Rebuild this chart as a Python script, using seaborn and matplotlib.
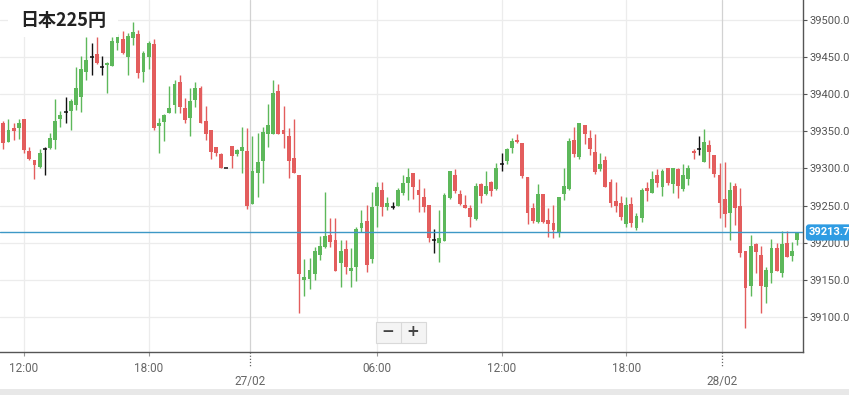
import numpy as np
import pandas as pd
import matplotlib
matplotlib.use("Agg")
import matplotlib.pyplot as plt
import seaborn as sns
from matplotlib import font_manager
from matplotlib.patches import Rectangle
from matplotlib.transforms import blended_transform_factory

# ---------------- data (15-minute candles) ----------------
opens = [39361, 39336, 39354, 39354, 39367, 39324, 39311, 39302, 39326, 39328,
         39338, 39367, 39376, 39377, 39385, 39396, 39430, 39450, 39454, 39437,
         39439, 39438, 39469, 39474, 39450, 39476, 39481, 39430, 39450, 39468,
         39357, 39363, 39375, 39385, 39416, 39381, 39368, 39392, 39408, 39364,
         39352, 39329, 39319, 39301, 39330, 39319, 39324, 39324, 39252, 39294,
         39310, 39346, 39346, 39404, 39352, 39344, 39314, 39291, 39150, 39151,
         39158, 39183, 39194, 39210, 39204, 39173, 39191, 39162, 39167, 39220,
         39229, 39178, 39249, 39271, 39248, 39248, 39249, 39267, 39280, 39294,
         39271, 39262, 39251, 39203, 39199, 39202, 39260, 39291, 39266, 39251,
         39247, 39232, 39279, 39266, 39282, 39272, 39306, 39310, 39328, 39338,
         39334, 39288, 39247, 39228, 39266, 39231, 39226, 39214, 39266, 39272,
         39338, 39315, 39359, 39341, 39322, 39299, 39311, 39282, 39256, 39253,
         39225, 39252, 39220, 39233, 39274, 39267, 39291, 39275, 39301, 39279,
         39299, 39272, 39286, 39324, 39326, 39309, 39332, 39318, 39291, 39259,
         39240, 39276, 39249, 39189, 39142, 39198, 39183, 39140, 39159, 39193,
         39159, 39200, 39182, 39204]
highs = [39364, 39367, 39361, 39367, 39367, 39329, 39311, 39326, 39329, 39348,
         39394, 39377, 39396, 39394, 39437, 39452, 39477, 39469, 39477, 39452,
         39443, 39477, 39481, 39485, 39483, 39497, 39487, 39458, 39472, 39474,
         39368, 39373, 39411, 39419, 39426, 39395, 39408, 39417, 39411, 39384,
         39352, 39329, 39321, 39301, 39330, 39326, 39356, 39355, 39344, 39348,
         39356, 39387, 39419, 39414, 39384, 39355, 39367, 39291, 39178, 39179,
         39194, 39209, 39268, 39233, 39233, 39204, 39204, 39193, 39221, 39244,
         39251, 39268, 39282, 39282, 39262, 39255, 39274, 39291, 39301, 39294,
         39286, 39274, 39251, 39218, 39244, 39267, 39297, 39299, 39271, 39264,
         39251, 39280, 39280, 39297, 39283, 39307, 39321, 39328, 39341, 39346,
         39334, 39288, 39253, 39279, 39266, 39247, 39251, 39262, 39301, 39341,
         39356, 39361, 39359, 39352, 39346, 39321, 39317, 39286, 39282, 39263,
         39262, 39262, 39240, 39274, 39282, 39297, 39299, 39299, 39301, 39301,
         39301, 39306, 39305, 39326, 39344, 39353, 39338, 39318, 39307, 39309,
         39282, 39280, 39274, 39189, 39210, 39199, 39195, 39167, 39205, 39200,
         39216, 39216, 39201, 39214]
lows = [39326, 39335, 39338, 39340, 39321, 39311, 39286, 39301, 39291, 39326,
        39326, 39356, 39361, 39352, 39379, 39376, 39419, 39426, 39441, 39426,
        39402, 39438, 39460, 39454, 39426, 39466, 39422, 39417, 39434, 39352,
        39321, 39337, 39375, 39375, 39375, 39361, 39344, 39383, 39361, 39338,
        39313, 39317, 39301, 39301, 39301, 39317, 39294, 39245, 39252, 39262,
        39280, 39329, 39346, 39346, 39328, 39287, 39294, 39105, 39128, 39137,
        39150, 39177, 39193, 39194, 39162, 39140, 39158, 39140, 39148, 39214,
        39160, 39173, 39221, 39236, 39244, 39245, 39249, 39264, 39257, 39259,
        39241, 39241, 39201, 39186, 39174, 39202, 39259, 39267, 39251, 39247,
        39221, 39231, 39253, 39264, 39263, 39271, 39297, 39306, 39321, 39334,
        39287, 39225, 39226, 39226, 39226, 39208, 39206, 39208, 39257, 39271,
        39315, 39313, 39333, 39318, 39292, 39297, 39275, 39248, 39241, 39231,
        39221, 39221, 39217, 39228, 39256, 39267, 39275, 39263, 39278, 39267,
        39260, 39270, 39278, 39313, 39318, 39309, 39301, 39288, 39233, 39221,
        39204, 39224, 39181, 39085, 39128, 39159, 39105, 39119, 39146, 39162,
        39154, 39181, 39175, 39197]
closes = [39334, 39352, 39350, 39361, 39325, 39313, 39305, 39321, 39326, 39341,
          39364, 39372, 39376, 39391, 39408, 39434, 39446, 39450, 39442, 39437,
          39442, 39472, 39477, 39456, 39478, 39484, 39429, 39456, 39469, 39355,
          39361, 39372, 39381, 39414, 39383, 39365, 39391, 39408, 39361, 39346,
          39322, 39321, 39301, 39301, 39317, 39325, 39329, 39249, 39297, 39309,
          39349, 39359, 39402, 39346, 39346, 39310, 39294, 39158, 39154, 39163,
          39189, 39195, 39209, 39201, 39162, 39189, 39167, 39166, 39218, 39226,
          39170, 39248, 39275, 39248, 39253, 39248, 39271, 39280, 39288, 39275,
          39264, 39248, 39206, 39203, 39206, 39264, 39297, 39270, 39252, 39247,
          39235, 39276, 39263, 39276, 39270, 39301, 39306, 39326, 39337, 39336,
          39290, 39240, 39229, 39266, 39228, 39225, 39217, 39262, 39276, 39337,
          39319, 39361, 39346, 39326, 39295, 39306, 39275, 39253, 39249, 39235,
          39251, 39226, 39236, 39271, 39270, 39286, 39280, 39297, 39280, 39301,
          39276, 39291, 39301, 39321, 39326, 39336, 39322, 39292, 39253, 39239,
          39271, 39247, 39186, 39139, 39195, 39187, 39142, 39163, 39193, 39162,
          39198, 39181, 39189, 39213.7]

time_tick_pos = [4, 28, 72, 96, 120]
time_tick_labels = ["12:00", "18:00", "06:00", "12:00", "18:00"]
day_tick_pos = [47.5, 138.5]
day_tick_labels = ["27/02", "28/02"]
y_ticks = [39100, 39150, 39200, 39250, 39300, 39350, 39400, 39450, 39500]
last_price = 39213.7
title = "日本225円"

UP = "#5db85b"
DOWN = "#e35d5d"
DOJI = "#111111"

# ---------------- style ----------------
sns.set_theme(style="white")
available = {f.name for f in font_manager.fontManager.ttflist}
axis_font = "Liberation Sans Narrow" if "Liberation Sans Narrow" in available else "Roboto"
plt.rcParams["font.family"] = [axis_font, "DejaVu Sans"]

df = pd.DataFrame({"o": opens, "h": highs, "l": lows, "c": closes})
df["i"] = np.arange(len(df))
df["kind"] = np.where(df.c > df.o, "up", np.where(df.c < df.o, "down", "doji"))
color_map = {"up": UP, "down": DOWN, "doji": DOJI}
df["col"] = df.kind.map(color_map)

W, H = 849, 395
fig = plt.figure(figsize=(W / 100, H / 100), dpi=100)
fig.patch.set_facecolor("white")
ax = fig.add_axes([0, 43 / H, 803 / W, 352 / H])
ax.set_facecolor("white")

ax.set_xlim(-0.636, 154.08)
ax.set_ylim(39052.6, 39527.0)

# grid
for v in y_ticks:
    ax.axhline(v, color="#ececec", lw=0.9, zorder=0)
for p in time_tick_pos:
    ax.axvline(p, color="#ececec", lw=0.9, zorder=0)
for p in day_tick_pos:
    ax.axvline(p, color="#d2d2d2", lw=0.9, zorder=0)

# wicks
ax.vlines(df.i, df.l, df.h, colors=df.col, lw=1.0, zorder=2)
# bodies
nd = df[df.kind != "doji"]
bottoms = np.minimum(nd.o, nd.c)
heights = np.maximum(np.abs(nd.c - nd.o), 1.3)
ax.bar(nd.i, heights, bottom=bottoms, width=0.74, color=nd.col, linewidth=0, zorder=3)
# doji ticks
dj = df[df.kind == "doji"]
sns.scatterplot(x=dj.i, y=dj.o, marker="_", s=10, color=DOJI, linewidth=1.1,
                ax=ax, zorder=4, legend=False)
ax.set_xlabel("")
ax.set_ylabel("")

# last price line
ax.axhline(last_price, color="#3d98c6", lw=1.0, zorder=5)

# axes styling
for s in ["top", "left"]:
    ax.spines[s].set_visible(False)
for s in ["right", "bottom"]:
    ax.spines[s].set_visible(True)
    ax.spines[s].set_color("#555555")
    ax.spines[s].set_linewidth(1.0)

ax.yaxis.tick_right()
ax.set_yticks(y_ticks)
ax.set_yticklabels([f"{v:.1f}" for v in y_ticks])
ax.tick_params(axis="y", which="both", right=True, left=False, length=3, width=0.8,
               color="#555555", labelcolor="#555555", labelsize=8, pad=2)

ax.set_xticks(time_tick_pos)
ax.set_xticklabels(time_tick_labels)
ax.tick_params(axis="x", which="both", bottom=True, length=3, width=0.8,
               color="#999999", labelcolor="#666666", labelsize=8.5, pad=4)

trans_xd = blended_transform_factory(ax.transData, ax.transAxes)
for p, lab in zip(day_tick_pos, day_tick_labels):
    ax.plot([p, p], [0, -14 / 352], transform=trans_xd, ls=(0, (1, 1.5)),
            color="#666666", lw=0.9, clip_on=False)
    ax.text(p, -29 / 352, lab, transform=trans_xd, ha="center", va="center",
            fontsize=8.5, color="#666666")

# price label
trans_ay = blended_transform_factory(ax.transAxes, ax.transData)
ax.text(1.0 + 6 / 803, last_price, f"{last_price:.1f}", transform=trans_ay,
        ha="left", va="center", color="white", fontsize=8, fontweight="bold",
        bbox=dict(boxstyle="round,pad=0.28", fc="#2f9ce3", ec="none"),
        clip_on=False, zorder=10)

# title with white background
fig.patches.append(Rectangle((8 / W, 1 - 37 / H), 110 / W, 37 / H,
                             transform=fig.transFigure, fc="white", ec="none", zorder=5))
fig.text(20 / W, 1 - 21 / H, title, ha="left", va="center", fontsize=13,
         fontweight="bold", color="#222222",
         family=["Noto Sans CJK JP", "DejaVu Sans"], zorder=6)

# zoom buttons
bx0, by0, bw, bh = 376, 322, 50, 21
fig.patches.append(Rectangle((bx0 / W, 1 - (by0 + bh) / H), bw / W, bh / H,
                             transform=fig.transFigure, fc="#f4f4f4", ec="#d9d9d9",
                             lw=0.8, zorder=5))
fig.lines.append(plt.Line2D([401 / W, 401 / W], [1 - (by0 + bh) / H, 1 - by0 / H],
                            transform=fig.transFigure, color="#d9d9d9", lw=0.8, zorder=6))
fig.text(388 / W, 1 - 332 / H, "−", ha="center", va="center", fontsize=11,
         fontweight="bold", color="#444444", family=["DejaVu Sans"], zorder=7)
fig.text(413 / W, 1 - 332 / H, "+", ha="center", va="center", fontsize=11,
         fontweight="bold", color="#444444", family=["DejaVu Sans"], zorder=7)

# bottom grey band
fig.patches.append(Rectangle((0, 0), 1, 6 / H, transform=fig.transFigure,
                             fc="#e8e8e8", ec="none", zorder=1))

fig.savefig("out.png", dpi=100)
